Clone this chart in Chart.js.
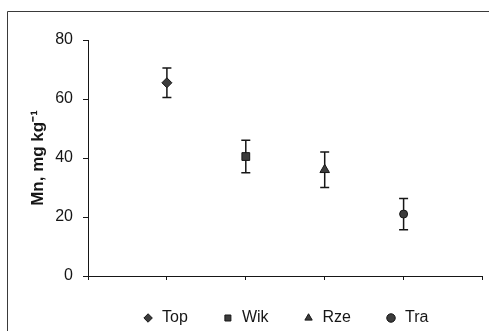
<!DOCTYPE html>
<html>
<head>
<meta charset="utf-8">
<script src="https://cdn.jsdelivr.net/npm/chart.js@4/dist/chart.umd.min.js"></script>
<style>
  html, body { margin: 0; padding: 0; background: #fff; }
  #wrap { width: 489px; height: 331px; }
</style>
</head>
<body>
<div id="wrap"><canvas id="chart"></canvas></div>
<script>
// Mn concentration by site, mean with error bar
var sites = ["Top", "Wik", "Rze", "Tra"];
var siteX = [1, 2, 3, 4];
var means = [65.5, 40.5, 36, 21];
var errors = [5, 5.5, 6, 5.3];
var markers = ["rectRot", "rect", "triangle", "circle"];
var markerSize = [5, 5.5, 5.5, 4];
var yTicks = [0, 20, 40, 60, 80];

var ink = "#161616";
var fill = "#3c3c3c";
var font = "'Liberation Sans', Arial, sans-serif";

// ── error bars, drawn under the markers ──────────────────────────
var errorBars = {
  id: "errorBars",
  beforeDatasetsDraw: function (chart) {
    var ctx = chart.ctx;
    var xs = chart.scales.x, ys = chart.scales.y;
    ctx.save();
    ctx.strokeStyle = ink;
    ctx.lineWidth = 1.5;
    sites.forEach(function (s, i) {
      var px = xs.getPixelForValue(siteX[i]);
      var top = ys.getPixelForValue(means[i] + errors[i]);
      var bot = ys.getPixelForValue(means[i] - errors[i]);
      ctx.beginPath();
      ctx.moveTo(px, top); ctx.lineTo(px, bot);
      ctx.moveTo(px - 4.5, top); ctx.lineTo(px + 4.5, top);
      ctx.moveTo(px - 4.5, bot); ctx.lineTo(px + 4.5, bot);
      ctx.stroke();
    });
    ctx.restore();
  }
};

// ── outer frame (top and left edge of the plot box) ──────────────
var frame = {
  id: "frame",
  beforeDraw: function (chart) {
    var ctx = chart.ctx;
    ctx.save();
    ctx.strokeStyle = "#3a3a3a";
    ctx.lineWidth = 1;
    ctx.beginPath();
    ctx.moveTo(7.5, chart.height);
    ctx.lineTo(7.5, 11.5);
    ctx.lineTo(chart.width, 11.5);
    ctx.stroke();
    ctx.restore();
  }
};

new Chart(document.getElementById("chart"), {
  type: "scatter",
  data: {
    datasets: sites.map(function (s, i) {
      return {
        label: s,
        data: [{ x: siteX[i], y: means[i] }],
        pointStyle: markers[i],
        pointRadius: markerSize[i],
        pointHoverRadius: markerSize[i],
        backgroundColor: fill,
        borderColor: ink,
        borderWidth: 1,
      };
    }),
  },
  options: {
    responsive: true,
    maintainAspectRatio: false,
    animation: false,
    layout: { padding: { left: 8, top: 40, right: 6, bottom: 0 } },
    plugins: {
      tooltip: { enabled: false },
      legend: {
        position: "bottom",
        fullSize: false,
        maxHeight: 55,
        labels: {
          usePointStyle: true,
          boxWidth: 12,
          boxHeight: 6,
          padding: 34,
          color: ink,
          font: { family: font, size: 16 },
        },
      },
    },
    scales: {
      x: {
        type: "linear",
        min: 0,
        max: 5,
        afterFit: function (s) { s.height = 0; },
        ticks: { display: false, stepSize: 1 },
        grid: { drawOnChartArea: false, tickLength: 4, color: ink },
        border: { color: ink, width: 1 },
      },
      y: {
        min: 0,
        max: 80,
        afterFit: function (s) { s.width = 80; },
        afterBuildTicks: function (s) {
          s.ticks = yTicks.map(function (v) { return { value: v }; });
        },
        ticks: {
          padding: 10,
          color: ink,
          font: { family: font, size: 16 },
        },
        grid: { drawOnChartArea: false, tickLength: 5, color: ink },
        border: { color: ink, width: 1 },
        title: {
          display: true,
          text: "Mn, mg kg\u207B\u00B9",
          color: ink,
          padding: { top: 20, bottom: 0 },
          font: { family: font, size: 17, weight: "bold" },
        },
      },
    },
  },
  plugins: [errorBars, frame],
});
</script>
</body>
</html>
